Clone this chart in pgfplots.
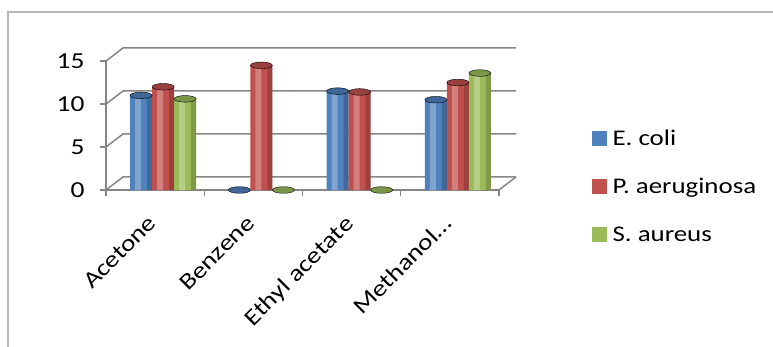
\documentclass[border=0pt]{standalone}
\usepackage{fontspec}
\setmainfont{Carlito}[FakeStretch=1.2]
\usepackage{pgfplots}
\usepackage{pgfplotstable}
\pgfplotsset{compat=1.18}
\definecolor{cblue}{HTML}{4F81BD}
\definecolor{cred}{HTML}{C0504D}
\definecolor{cgreen}{HTML}{9BBB59}
\definecolor{gridc}{HTML}{868686}
\pgfplotstableread{
x y
0 11.0
1 0
2 11.5
3 10.5
}\ecoli
\pgfplotstableread{
x y
0 12.0
1 14.5
2 11.4
3 12.5
}\paer
\pgfplotstableread{
x y
0 10.6
1 0
2 0
3 13.6
}\saur
\begin{document}
\begin{tikzpicture}
\path[use as bounding box] (0bp,0bp) rectangle (773bp,347bp);
\draw[gridc!60, line width=1.2bp] (8bp,-20bp) rectangle (800bp,335bp);
\begin{axis}[
  at={(106bp,157bp)}, anchor=south west,
  scale only axis, width=393bp, height=129bp,
  xmin=-0.5, xmax=3.5, ymin=0, ymax=15,
  clip=false,
  axis x line*=bottom, axis y line*=left,
  axis line style={gridc, line width=1.2bp},
  xtick={0,1,2,3},
  xticklabels={Acetone,Benzene,Ethyl acetate,Methanol…\hspace{-16bp}},
  major x tick style={draw=none},
  minor xtick={-0.5,0.5,1.5,2.5,3.5},
  minor tick length=6bp,
  minor x tick style={gridc, line width=1.2bp},
  ytick={0,5,10,15},
  major tick length=6bp,
  y tick style={gridc, line width=1.2bp},
  tick align=outside,
  /pgf/number format/assume math mode=true,
  yticklabel style={font=\fontsize{23}{23}\selectfont, anchor=east, xshift=-12bp},
  xticklabel style={font=\fontsize{23}{23}\selectfont, xshift=-8bp, yshift=-13bp, rotate=45, anchor=north east},
  legend style={draw=none, fill=none, at={(rel axis cs:1.235,0.485)}, anchor=north west,
    font=\fontsize{22.5}{22.5}\selectfont, row sep=27.5bp, inner sep=0pt,
    /tikz/every odd column/.append style={column sep=4bp}},
  legend cell align=left,
  cap/.style={forget plot, only marks, mark=*, mark size=11bp, mark options={yscale=0.3, draw=none, fill=#1}},
  light/.style={forget plot, ybar, bar width=6bp, draw=none, fill=white, fill opacity=0.28, bar shift=#1},
  dark/.style={forget plot, ybar, bar width=5bp, draw=none, fill=black, fill opacity=0.18, bar shift=#1},
]
\pgfplotsinvokeforeach{0,5,10,15}{
  \draw[gridc, line width=1.5bp] (axis cs:-0.5,#1) -- ([shift={(17bp,13bp)}]axis cs:-0.5,#1) -- ([shift={(17bp,13bp)}]axis cs:3.5,#1);
}
\draw[gridc, line width=1.5bp] (axis cs:3.5,0) -- ([shift={(17bp,13bp)}]axis cs:3.5,0);
\addplot[ybar, bar width=22bp, draw=none, bar shift=-14bp, fill=cblue,
  legend image code/.code={\fill[cblue] (0bp,-7.5bp) rectangle (15bp,7.5bp);}]
  table[x=x, y=y] {\ecoli};
\addlegendentry{E. coli}
\addplot[ybar, bar width=22bp, draw=none, bar shift=8bp, fill=cred,
  legend image code/.code={\fill[cred] (0bp,-7.5bp) rectangle (15bp,7.5bp);}]
  table[x=x, y=y] {\paer};
\addlegendentry{P. aeruginosa}
\addplot[ybar, bar width=22bp, draw=none, bar shift=30bp, fill=cgreen,
  legend image code/.code={\fill[cgreen] (0bp,-7.5bp) rectangle (15bp,7.5bp);}]
  table[x=x, y=y] {\saur};
\addlegendentry{S. aureus}
\addplot[light=-17bp] table[x=x, y=y] {\ecoli};
\addplot[light=5bp] table[x=x, y=y] {\paer};
\addplot[light=27bp] table[x=x, y=y] {\saur};
\addplot[dark=-5.5bp] table[x=x, y=y] {\ecoli};
\addplot[dark=16.5bp] table[x=x, y=y] {\paer};
\addplot[dark=38.5bp] table[x=x, y=y] {\saur};
\addplot[cap=cblue!80!black] table[x expr=\thisrow{x}-0.1425, y=y] {\ecoli};
\addplot[cap=cred!80!black] table[x expr=\thisrow{x}+0.0814, y=y] {\paer};
\addplot[cap=cgreen!80!black] table[x expr=\thisrow{x}+0.3053, y=y] {\saur};
\end{axis}
\end{tikzpicture}
\end{document}
